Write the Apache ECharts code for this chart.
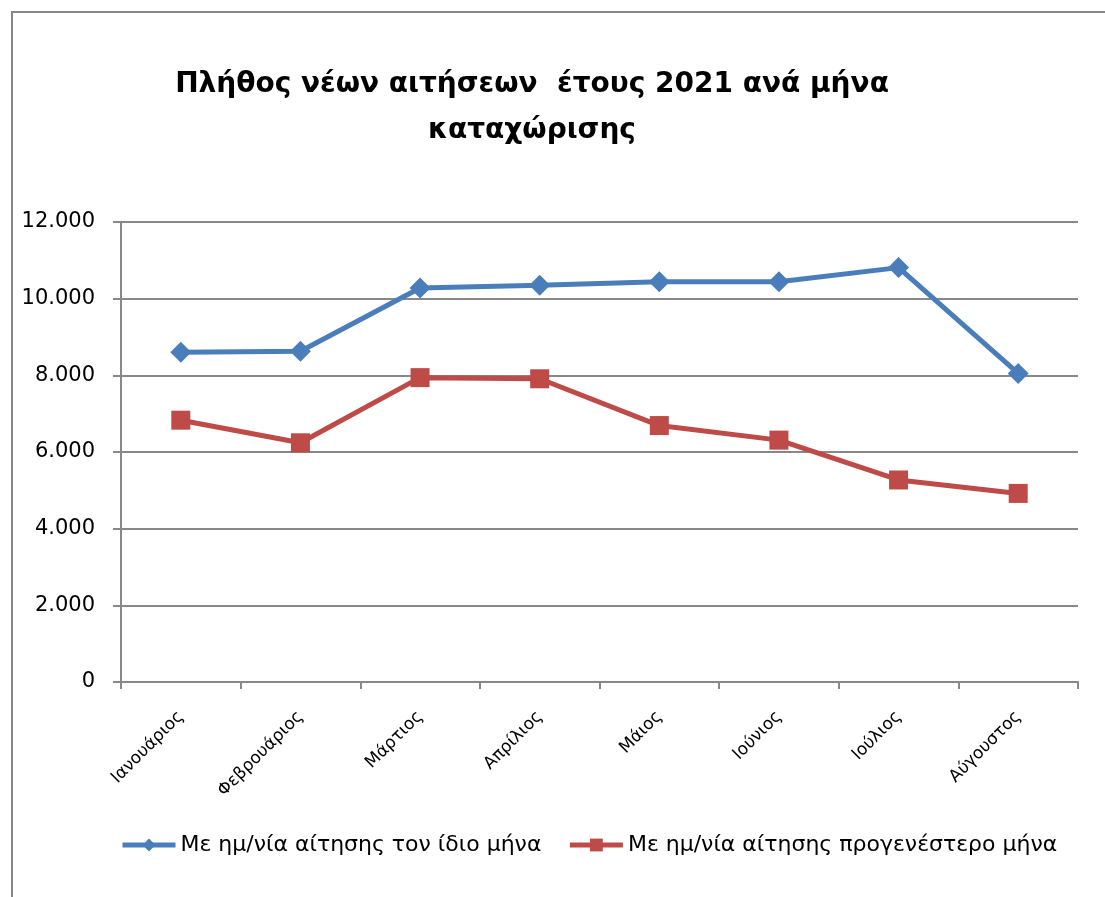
<!DOCTYPE html>
<html>
<head>
<meta charset="utf-8">
<script src="https://cdn.jsdelivr.net/npm/echarts@6/dist/echarts.min.js"></script>
<style>
html,body{margin:0;padding:0;background:#fff;}
#frame{position:absolute;left:11px;top:11px;width:1100px;height:900px;border:2px solid #888;box-sizing:border-box;}
#chart{position:absolute;left:0;top:0;width:1105px;height:897px;}
</style>
</head>
<body>
<div id="frame"></div>
<div id="chart"></div>
<script>
const titleText = 'Πλήθος νέων αιτήσεων  έτους 2021 ανά μήνα\nκαταχώρισης';
const categories = ['Ιανουάριος','Φεβρουάριος','Μάρτιος','Απρίλιος','Μάιος','Ιούνιος','Ιούλιος','Αύγουστος'];
const seriesNames = ['Με ημ/νία αίτησης τον ίδιο μήνα','Με ημ/νία αίτησης προγενέστερο μήνα'];
const sameMonth = [8600, 8630, 10280, 10350, 10440, 10440, 10810, 8050];
const earlierMonth = [6830, 6240, 7940, 7910, 6690, 6310, 5270, 4920];
const yTicks = [0, 2000, 4000, 6000, 8000, 10000, 12000];

const FONT = 'DejaVu Sans';
const chart = echarts.init(document.getElementById('chart'), null, {renderer:'canvas'});
chart.setOption({
  backgroundColor: 'transparent',
  animation: false,
  title: {
    text: titleText,
    left: 527, top: 57, textAlign: 'center',
    textStyle: {fontFamily: FONT, fontWeight: 'bold', fontSize: 28, lineHeight: 46, color: '#000'}
  },
  legend: {
    top: 834, left: 120, padding: 0,
    itemWidth: 53, itemHeight: 16, itemGap: 26,
    lineStyle: {width: 5},
    textStyle: {fontFamily: FONT, fontSize: 22, color: '#000', padding:[0,0,0,0]},
    data: seriesNames
  },
  grid: {left: 121, top: 222, width: 957, height: 460, containLabel: false},
  xAxis: {
    type: 'category', data: categories, boundaryGap: true,
    axisLine: {show: true, lineStyle: {color: '#888', width: 2}},
    axisTick: {show: true, length: 7, alignWithLabel: false, lineStyle: {color: '#888', width: 2}},
    axisLabel: {rotate: 45, fontFamily: FONT, fontSize: 17, color: '#000', margin: 32, interval: 0}
  },
  yAxis: {
    type: 'value', min: yTicks[0], max: yTicks[yTicks.length-1], interval: 2000,
    axisLine: {show: true, lineStyle: {color: '#888', width: 2}},
    axisTick: {show: true, length: 8, lineStyle: {color: '#888', width: 2}},
    splitLine: {show: true, lineStyle: {color: '#888', width: 2}},
    axisLabel: {fontFamily: FONT, fontSize: 21, color: '#000', margin: 26,
      formatter: v => v === 0 ? '0' : v.toLocaleString('de-DE')}
  },
  series: [
    {name: seriesNames[0], type: 'line', data: sameMonth, symbol: 'diamond', symbolSize: 21,
     lineStyle: {color: '#4A7EBB', width: 5}, itemStyle: {color: '#4A7EBB'}},
    {name: seriesNames[1], type: 'line', data: earlierMonth, symbol: 'rect', symbolSize: 19,
     lineStyle: {color: '#BE4B48', width: 5}, itemStyle: {color: '#BE4B48'}}
  ]
});
</script>
</body>
</html>
